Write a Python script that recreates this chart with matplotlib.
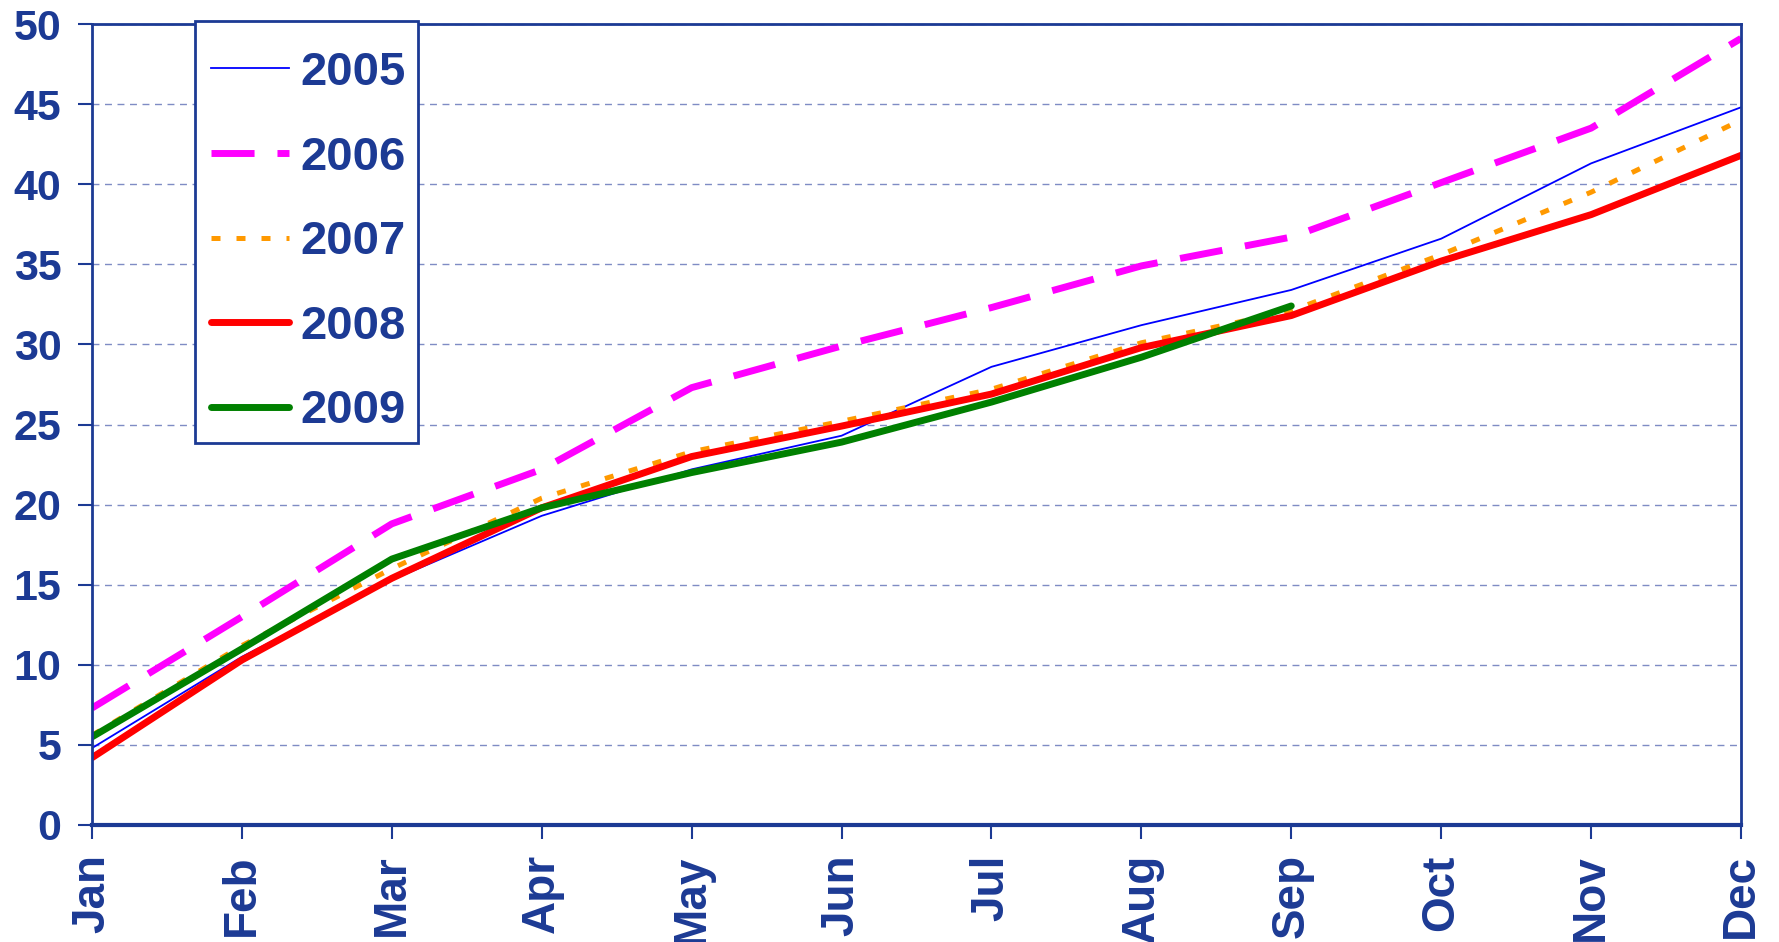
import matplotlib.pyplot as plt
from matplotlib.patches import Rectangle

# Накопленные значения по месяцам

months = ['Jan', 'Feb', 'Mar', 'Apr', 'May', 'Jun', 'Jul', 'Aug', 'Sep', 'Oct', 'Nov', 'Dec']
y2005 = [4.8, 10.5, 15.3, 19.3, 22.2, 24.3, 28.6, 31.2, 33.4, 36.6, 41.3, 44.8]
y2006 = [7.3, 13.0, 18.8, 22.2, 27.3, 29.9, 32.3, 34.9, 36.7, 40.1, 43.5, 49.1]
y2007 = [5.6, 11.2, 16.0, 20.4, 23.3, 25.2, 27.2, 30.1, 32.1, 35.6, 39.5, 44.0]
y2008 = [4.2, 10.3, 15.4, 19.8, 23.0, 24.9, 26.9, 29.8, 31.8, 35.2, 38.1, 41.8]
y2009 = [5.5, 11.0, 16.6, 19.8, 22.0, 23.9, 26.4, 29.2, 32.4]

navy = '#1c3a94'
font = ['Liberation Sans', 'DejaVu Sans']
W, H = 1779, 942

fig = plt.figure(figsize=(W/100, H/100), dpi=100)
ax = fig.add_axes([92/W, 1-825/H, (1741-92)/W, (825-24)/H])

x = list(range(len(months)))
ax.plot(x, y2005, color='#0000ff', lw=1.3, label='2005')
ax.plot(x, y2006, color='#ff00ff', lw=5, dashes=(6.2, 3.3), label='2006')
ax.plot(x, y2007, color='#ff9900', lw=3.6, dashes=(1.8, 3.2), label='2007')
ax.plot(x, y2008, color='#ff0000', lw=5, solid_capstyle='round', label='2008')
ax.plot(x[:len(y2009)], y2009, color='#008000', lw=5, solid_capstyle='round', label='2009')

ax.set_xlim(0, 11)
ax.set_ylim(0, 50)
ax.set_yticks(range(0, 51, 5))
ax.set_xticks(x)
ax.set_xticklabels(months, rotation=90, fontsize=33, fontweight='bold',
                   color=navy, family=font)
for t in ax.get_yticklabels():
    t.set_fontsize(31)
    t.set_fontweight('bold')
    t.set_color(navy)
    t.set_family(font)

ax.tick_params(axis='both', direction='out', length=10, width=1.5, color=navy)
ax.tick_params(axis='y', pad=12)
ax.tick_params(axis='x', pad=11)
for s in ax.spines.values():
    s.set_color(navy)
    s.set_linewidth(2)
ax.spines['bottom'].set_linewidth(3)

ax.grid(axis='y', linestyle=(0, (5, 4)), color='#7f8cc4', lw=1)
ax.set_axisbelow(True)

# рамка легенды отдельно
box = Rectangle((195/W, 1-443/H), (418-195)/W, (443-21)/H, transform=fig.transFigure,
                facecolor='white', edgecolor=navy, lw=2, zorder=3)
fig.patches.append(box)

leg = fig.legend(loc='upper left', bbox_to_anchor=(211/W, 1-51/H),
                 borderaxespad=0, frameon=False, handlelength=1.65,
                 handletextpad=0.24, labelspacing=0.86, borderpad=0,
                 prop={'family': font, 'weight': 'bold', 'size': 34})
leg.set_zorder(5)
for t in leg.get_texts():
    t.set_color(navy)

plt.savefig('out.png', dpi=100)
